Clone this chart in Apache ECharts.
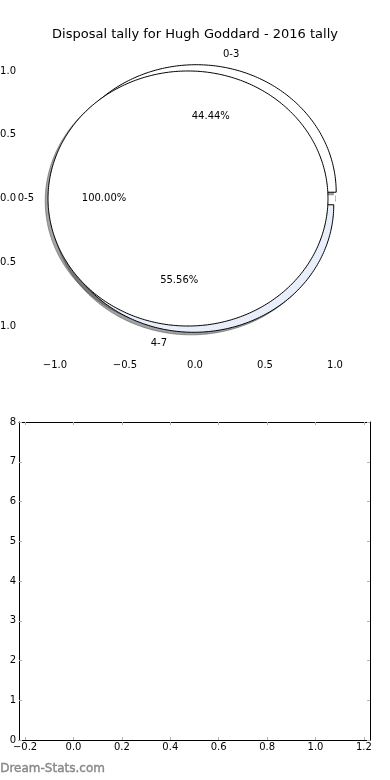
<!DOCTYPE html>
<html>
<head>
<meta charset="utf-8">
<script src="https://cdn.jsdelivr.net/npm/echarts@6/dist/echarts.min.js"></script>
<style>
html,body{margin:0;padding:0;background:#fff;}
#chart{width:390px;height:780px;}
</style>
</head>
<body>
<div id="chart"></div>
<script>
// ---- data ----
const titleText = 'Disposal tally for Hugh Goddard - 2016 tally';
const pieA_labels = ['0-5'];
const pieA_values = [9];
const pieB_labels = ['0-3', '4-7'];
const pieB_values = [4, 5];
const pieB_colors = ['#ffffff', '#e8eefa'];
const pieA_colors = ['#ffffff'];
const topTicks = [-1.0, -0.5, 0.0, 0.5, 1.0];
const bottomXTicks = [-0.2, 0.0, 0.2, 0.4, 0.6, 0.8, 1.0, 1.2];
const bottomYTicks = [0, 1, 2, 3, 4, 5, 6, 7, 8];

// ---- geometry helpers (pie layout in data units) ----
const EXPLODE = 0.05, SH = -0.02, LABELD = 1.1, PCTD = 0.6;
function layoutPie(labels, values, colors) {
  const total = values.reduce((a, b) => a + b, 0);
  let acc = 0;
  return values.map((v, i) => {
    const t1 = acc / total * 360;
    acc += v;
    const t2 = acc / total * 360;
    const mid = (t1 + t2) / 2 * Math.PI / 180;
    const cx = EXPLODE * Math.cos(mid), cy = EXPLODE * Math.sin(mid);
    return {
      t1, t2, cx, cy, mid, color: colors[i % colors.length], label: labels[i],
      pct: (v / total * 100).toFixed(2) + '%'
    };
  });
}
const wedgesB = layoutPie(pieB_labels, pieB_values, pieB_colors);
const wedgesA = layoutPie(pieA_labels, pieA_values, pieA_colors);

function wedgePoints(api, w, ox, oy) {
  const pts = [];
  const full = (w.t2 - w.t1) >= 359.999;
  if (!full) pts.push(api.coord([w.cx + ox, w.cy + oy]));
  const step = 1;
  for (let a = w.t1; a <= w.t2 + 1e-9; a += step) {
    const r = a * Math.PI / 180;
    pts.push(api.coord([w.cx + ox + Math.cos(r), w.cy + oy + Math.sin(r)]));
  }
  const r2 = w.t2 * Math.PI / 180;
  pts.push(api.coord([w.cx + ox + Math.cos(r2), w.cy + oy + Math.sin(r2)]));
  return pts;
}
function shadeColor(hex) {
  const n = parseInt(hex.slice(1), 16);
  const r = Math.round(((n >> 16) & 255) * 0.3), g = Math.round(((n >> 8) & 255) * 0.3), b = Math.round((n & 255) * 0.3);
  return 'rgba(' + r + ',' + g + ',' + b + ',0.5)';
}
function fmt(v, d) {
  return (v < 0 ? '\u2212' : '') + Math.abs(v).toFixed(d);
}

const allWedges = wedgesB.concat(wedgesA);
const FONT = 'DejaVu Sans';
const tickColor = '#b4b4b4';

const chart = echarts.init(document.getElementById('chart'), null, {renderer: 'canvas'});

function wedgeSeries(list, z, shadow) {
  return {
    type: 'custom',
    xAxisIndex: 0, yAxisIndex: 0,
    coordinateSystem: 'cartesian2d',
    clip: false,
    silent: true,
    z: z,
    data: list.map((w, i) => [w.cx, w.cy]),
    renderItem: function (params, api) {
      const w = list[params.dataIndex];
      if (shadow) {
        const c = shadeColor(w.color);
        return {type: 'polygon', shape: {points: wedgePoints(api, w, SH, SH)},
          style: {fill: c, stroke: c, lineWidth: 1}};
      }
      return {type: 'polygon', shape: {points: wedgePoints(api, w, 0, 0)},
        style: {fill: w.color, stroke: '#000', lineWidth: 1}};
    }
  };
}

const labelSeries = {
  type: 'custom',
  xAxisIndex: 0, yAxisIndex: 0,
  coordinateSystem: 'cartesian2d',
  clip: false, silent: true, z: 10,
  data: allWedges.map(w => [w.cx, w.cy]),
  renderItem: function (params, api) {
    const w = allWedges[params.dataIndex];
    const lx = w.cx + LABELD * Math.cos(w.mid), ly = w.cy + LABELD * Math.sin(w.mid);
    const px = w.cx + PCTD * Math.cos(w.mid), py = w.cy + PCTD * Math.sin(w.mid);
    const lp = api.coord([lx, ly]), pp = api.coord([px, py]);
    return {type: 'group', children: [
      {type: 'text', x: lp[0], y: lp[1], style: {text: w.label, fill: '#000', font: '10px ' + FONT,
        align: lx > 0 ? 'left' : 'right', verticalAlign: 'middle'}},
      {type: 'text', x: pp[0], y: pp[1], style: {text: w.pct, fill: '#000', font: '10px ' + FONT,
        align: 'center', verticalAlign: 'middle'}}
    ]};
  }
};

const LIM = 1.243;
const option = {
  animation: false,
  backgroundColor: '#fff',
  textStyle: {fontFamily: FONT},
  title: {text: titleText, left: 'center', top: 23,
    textStyle: {fontFamily: FONT, fontSize: 13, fontWeight: 'normal', color: '#000'}},
  grid: [
    {left: 21, top: 40, width: 348, height: 317, containLabel: false, outerBoundsMode: 'none'},
    {left: 19, top: 422, width: 351, height: 318, containLabel: false, outerBoundsMode: 'none'}
  ],
  xAxis: [
    {gridIndex: 0, type: 'value', position: 'bottom', min: -LIM, max: LIM,
      axisLine: {show: false}, splitLine: {show: false},
      axisTick: {show: true, inside: true, length: 3, customValues: topTicks, lineStyle: {color: tickColor}},
      axisLabel: {customValues: topTicks, formatter: v => fmt(v, 1), fontFamily: FONT, fontSize: 10, color: '#000', margin: 3}},
    {gridIndex: 0, type: 'value', position: 'top', min: -LIM, max: LIM,
      axisLine: {show: false}, splitLine: {show: false},
      axisTick: {show: true, inside: true, length: 3, customValues: topTicks, lineStyle: {color: tickColor}},
      axisLabel: {show: false}},
    {gridIndex: 1, type: 'value', position: 'bottom', min: -0.225, max: 1.225,
      axisLine: {show: true, onZero: false, lineStyle: {color: '#000', width: 1}}, splitLine: {show: false},
      axisTick: {show: true, inside: true, length: 3, customValues: bottomXTicks, lineStyle: {color: tickColor}},
      axisLabel: {customValues: bottomXTicks, formatter: v => fmt(v, 1), fontFamily: FONT, fontSize: 10, color: '#000', margin: 2}},
    {gridIndex: 1, type: 'value', position: 'top', min: -0.225, max: 1.225,
      axisLine: {show: true, onZero: false, lineStyle: {color: '#000', width: 1}}, splitLine: {show: false},
      axisTick: {show: true, inside: true, length: 3, customValues: bottomXTicks, lineStyle: {color: tickColor}},
      axisLabel: {show: false}}
  ],
  yAxis: [
    {gridIndex: 0, type: 'value', position: 'left', min: -LIM, max: LIM,
      axisLine: {show: false}, splitLine: {show: false},
      axisTick: {show: true, inside: true, length: 3, customValues: topTicks, lineStyle: {color: tickColor}},
      axisLabel: {customValues: topTicks, formatter: v => fmt(v, 1), fontFamily: FONT, fontSize: 10, color: '#000', margin: 5}},
    {gridIndex: 0, type: 'value', position: 'right', min: -LIM, max: LIM,
      axisLine: {show: false}, splitLine: {show: false},
      axisTick: {show: true, inside: true, length: 3, customValues: topTicks, lineStyle: {color: tickColor}},
      axisLabel: {show: false}},
    {gridIndex: 1, type: 'value', position: 'left', min: 0, max: 8, interval: 1,
      axisLine: {show: true, onZero: false, lineStyle: {color: '#000', width: 1}}, splitLine: {show: false},
      axisTick: {show: true, inside: true, length: 3, customValues: bottomYTicks, lineStyle: {color: tickColor}},
      axisLabel: {customValues: bottomYTicks, fontFamily: FONT, fontSize: 10, color: '#000', margin: 3}},
    {gridIndex: 1, type: 'value', position: 'right', min: 0, max: 8, interval: 1,
      axisLine: {show: true, onZero: false, lineStyle: {color: '#000', width: 1}}, splitLine: {show: false},
      axisTick: {show: true, inside: true, length: 3, customValues: bottomYTicks, lineStyle: {color: tickColor}},
      axisLabel: {show: false}}
  ],
  graphic: [
    {type: 'text', left: 0, top: 763, style: {text: 'Dream-Stats.com', font: '12px ' + FONT, fill: '#888888', stroke: '#888888', lineWidth: 0.4}}
  ],
  series: [
    wedgeSeries(allWedges, 1, true),
    wedgeSeries(wedgesB, 2, false),
    wedgeSeries(wedgesA, 3, false),
    labelSeries
  ]
};
chart.setOption(option);
</script>
</body>
</html>
